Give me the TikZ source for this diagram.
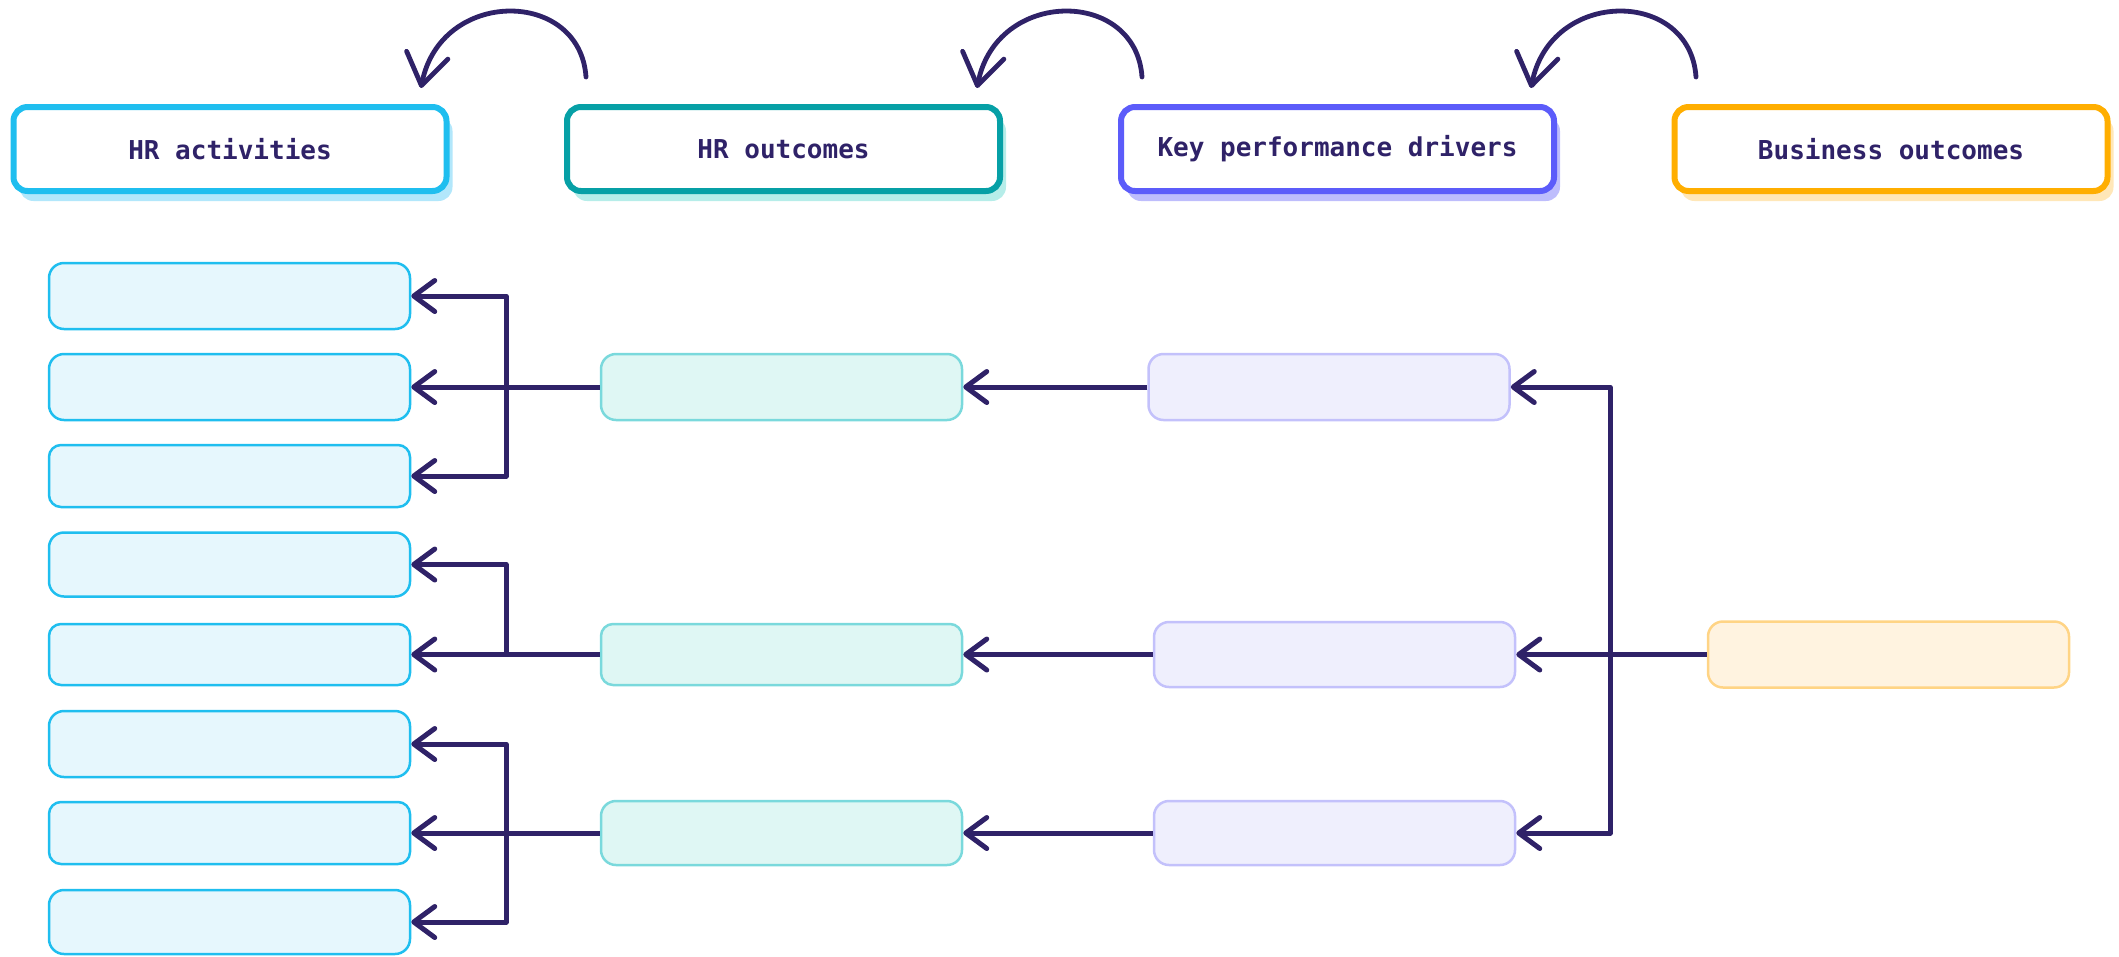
\documentclass[tikz,border=0pt]{standalone}
\usepackage{fontspec}
\setmonofont{DejaVu Sans Mono}
\usetikzlibrary{arrows.meta,shadows}
\definecolor{ink}{HTML}{2F2268}
\definecolor{cyanB}{HTML}{1FBEEF}
\definecolor{cyanS}{HTML}{B2E7FB}
\definecolor{cyanF}{HTML}{E6F7FD}
\definecolor{tealB}{HTML}{06A0A6}
\definecolor{tealS}{HTML}{B6EDE9}
\definecolor{tealF}{HTML}{DFF7F4}
\definecolor{tealL}{HTML}{7AD9DC}
\definecolor{violB}{HTML}{5C5CFA}
\definecolor{violS}{HTML}{BEBDFC}
\definecolor{violF}{HTML}{EFEFFD}
\definecolor{violL}{HTML}{C3C1FB}
\definecolor{ambB}{HTML}{FFAE00}
\definecolor{ambS}{HTML}{FFE7B8}
\definecolor{ambF}{HTML}{FFF3E0}
\definecolor{ambL}{HTML}{FFD485}
\tikzset{
  header/.style={draw=#1, line width=6pt, fill=white, rounded corners=14pt,
    minimum width=433pt, minimum height=84pt, inner sep=0pt,
    font=\ttfamily\bfseries\fontsize{26}{30}\selectfont, text=ink},
  hshadow/.style={drop shadow={shadow xshift=6pt, shadow yshift=-10pt, fill=#1, opacity=1}},
  cell/.style={draw=#1, line width=2.5pt, rounded corners=15pt,
    minimum width=361pt, inner sep=0pt},
  conn/.style={draw=ink, line width=5pt, line join=round,
    -{Straight Barb[length=21pt,width=31pt,line cap=round,line join=round]}},
  bothconn/.style={draw=ink, line width=5pt, line join=round,
    {Straight Barb[length=21pt,width=31pt,line cap=round,line join=round]}-{Straight Barb[length=21pt,width=31pt,line cap=round,line join=round]}},
  curved/.style={draw=ink, line width=4.8pt, line cap=round,
    -{Straight Barb[length=31pt,width=42pt,line cap=round,line join=round]}}
}
\begin{document}
\begin{tikzpicture}[x=1pt,y=-1pt]
\useasboundingbox (0,0) rectangle (2119,956);
% headers
\node[header=cyanB, hshadow=cyanS] (ha) at (230,149) {HR activities};
\node[header=tealB, hshadow=tealS] (ho) at (783.5,149) {HR outcomes};
\node[header=violB, hshadow=violS] (hk) at (1337.5,149) {Key performance drivers};
\node[header=ambB, hshadow=ambS] (hb) at (1891,149) {Business outcomes};
% curved arrows
\coordinate (s1) at (586,77);  \coordinate (t1) at (421,88);
\coordinate (s2) at (1142,77); \coordinate (t2) at (977,88);
\coordinate (s3) at (1696,77); \coordinate (t3) at (1531,88);
\draw[curved] (s1) .. controls (580,-12) and (440,-12) .. (t1);
\draw[curved] (s2) .. controls (1136,-12) and (996,-12) .. (t2);
\draw[curved] (s3) .. controls (1690,-12) and (1550,-12) .. (t3);
% HR activities cells
\node[cell=cyanB, fill=cyanF, minimum height=66pt] (a1) at (229.5,296) {};
\node[cell=cyanB, fill=cyanF, minimum height=66pt] (a2) at (229.5,387) {};
\node[cell=cyanB, fill=cyanF, minimum height=62pt, rounded corners=12pt] (a3) at (229.5,476) {};
\node[cell=cyanB, fill=cyanF, minimum height=64pt] (a4) at (229.5,564.5) {};
\node[cell=cyanB, fill=cyanF, minimum height=61pt, rounded corners=12pt] (a5) at (229.5,654.5) {};
\node[cell=cyanB, fill=cyanF, minimum height=66pt] (a6) at (229.5,744) {};
\node[cell=cyanB, fill=cyanF, minimum height=62pt, rounded corners=12pt] (a7) at (229.5,833) {};
\node[cell=cyanB, fill=cyanF, minimum height=64pt] (a8) at (229.5,922) {};
% HR outcomes cells
\node[cell=tealL, fill=tealF, minimum height=66pt] (o1) at (781.5,387) {};
\node[cell=tealL, fill=tealF, minimum height=61pt, rounded corners=12pt] (o2) at (781.5,654.5) {};
\node[cell=tealL, fill=tealF, minimum height=64pt] (o3) at (781.5,833) {};
% KPD cells
\node[cell=violL, fill=violF, minimum height=66pt] (k1) at (1329,387) {};
\node[cell=violL, fill=violF, minimum height=65pt] (k2) at (1334.5,654.5) {};
\node[cell=violL, fill=violF, minimum height=64pt] (k3) at (1334.5,833) {};
% Business outcome cell
\node[cell=ambL, fill=ambF, minimum height=66pt] (b1) at (1888.5,654.5) {};
% bus coordinates
\coordinate (lx) at (506,0);
\coordinate (rx) at (1610,0);
% connectors
\draw[conn] (k1.west) -- (o1.east);
\draw[conn] (k2.west) -- (o2.east);
\draw[conn] (k3.west) -- (o3.east);
\draw[conn] (b1.west) -- (k2.east);
\draw[bothconn] (k1.east) -- (rx |- k1.east) -- (rx |- k3.east) -- (k3.east);
\draw[conn] (o1.west) -- (a2.east);
\draw[bothconn] (a1.east) -- (lx |- a1.east) -- (lx |- a3.east) -- (a3.east);
\draw[conn] (o2.west) -- (a5.east);
\draw[conn] (lx |- a5.east) -- (lx |- a4.east) -- (a4.east);
\draw[conn] (o3.west) -- (a7.east);
\draw[bothconn] (a6.east) -- (lx |- a6.east) -- (lx |- a8.east) -- (a8.east);
\end{tikzpicture}
\end{document}
